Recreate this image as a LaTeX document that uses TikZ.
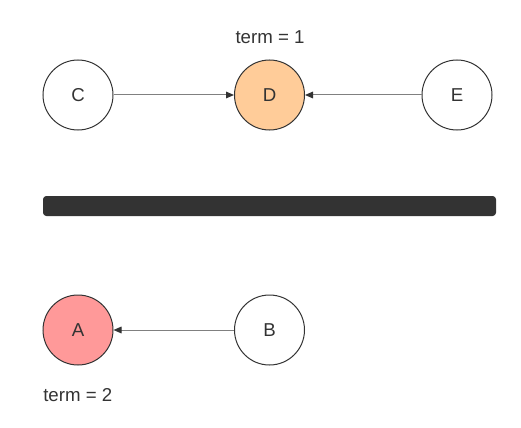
\documentclass[tikz,border=0pt]{standalone}
\usepackage{fontspec}
\setmainfont{Liberation Sans}
\usetikzlibrary{arrows.meta}
\definecolor{ink}{HTML}{333333}
\definecolor{edge}{HTML}{808080}
\definecolor{peach}{HTML}{FFCC99}
\definecolor{rose}{HTML}{FF9999}
\tikzset{
  x=0.75pt, y=-0.75pt,
  vert/.style={circle, draw=ink, line width=0.75pt, minimum size=52.5pt, inner sep=0pt, text=ink, font=\fontsize{14}{17}\selectfont},
  conn/.style={draw=edge, line width=0.75pt, -{Triangle[length=6pt,width=5pt,color=ink]}},
  lbl/.style={text=ink, font=\fontsize{14}{17}\selectfont, inner sep=0pt}
}
\begin{document}
\begin{tikzpicture}
\useasboundingbox (0,0) rectangle (521,428);
\node[vert] (C) at (78,95) {C};
\node[vert, fill=peach] (D) at (269.5,95) {D};
\node[vert] (E) at (457,95) {E};
\node[vert, fill=rose] (A) at (78,330) {A};
\node[vert] (B) at (269.5,330) {B};
\node[lbl] (t1) at (270,37) {term = 1};
\node[lbl, anchor=west] (t2) at (43,395) {term = 2};
\fill[ink, rounded corners=2.5pt] (43,196) rectangle (496,216);
\draw[conn] (C) -- (D);
\draw[conn] (E) -- (D);
\draw[conn] (B) -- (A);
\end{tikzpicture}
\end{document}
